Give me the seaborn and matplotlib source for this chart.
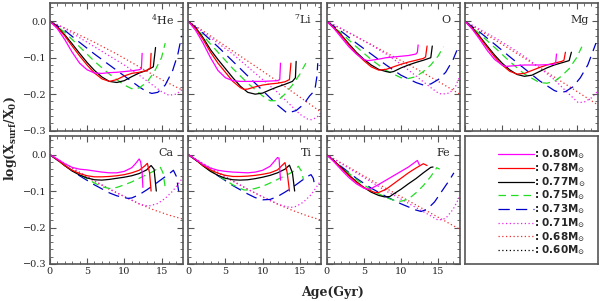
import pandas as pd
import matplotlib
matplotlib.use("Agg")
import matplotlib.pyplot as plt
from matplotlib.lines import Line2D
from matplotlib.ticker import MultipleLocator
import seaborn as sns

# stellar masses (Msun) and their line styles
MASSES = ["0.80", "0.78", "0.77", "0.75", "0.73", "0.71", "0.68", "0.60"]
COLORS = {"0.80": "#ff00ff", "0.78": "#ff0000", "0.77": "#000000", "0.75": "#22dd22",
          "0.73": "#0000cc", "0.71": "#ee22ee", "0.68": "#ee3030", "0.60": "#000000"}
DASHES = {"0.80": "", "0.78": "", "0.77": "", "0.75": (6, 4), "0.73": (9, 5),
          "0.71": (1, 2), "0.68": (1, 2), "0.60": (1, 2)}

# log(X_surf/X_0) vs age (Gyr)
HE4 = {
    "0.80": ([0, 1, 2, 3, 4, 5, 6, 7, 8, 9, 10, 11, 12, 12.3, 12.4],
             [0, -0.02, -0.05, -0.085, -0.115, -0.133, -0.142, -0.143, -0.141, -0.14, -0.138, -0.136, -0.133, -0.13, -0.088]),
    "0.78": ([0, 1, 2, 3, 4, 5, 6, 7, 8, 9, 10, 11, 12, 13, 13.5, 13.6],
             [0, -0.017, -0.04, -0.068, -0.095, -0.12, -0.142, -0.158, -0.165, -0.16, -0.15, -0.143, -0.14, -0.135, -0.128, -0.088]),
    "0.77": ([0, 1, 2, 3, 4, 5, 6, 7, 8, 9, 10, 11, 12, 13, 13.9, 14.2],
             [0, -0.015, -0.037, -0.062, -0.088, -0.113, -0.135, -0.153, -0.165, -0.168, -0.163, -0.152, -0.142, -0.135, -0.125, -0.072]),
    "0.75": ([0, 2, 4, 6, 8, 10, 11, 12, 13, 14, 15, 15.5],
             [0, -0.03, -0.07, -0.11, -0.145, -0.175, -0.185, -0.183, -0.168, -0.14, -0.1, -0.06]),
    "0.73": ([0, 2, 4, 6, 8, 10, 12, 13, 13.7, 14.5, 15.5, 16.5, 17.2, 17.7],
             [0, -0.025, -0.058, -0.09, -0.12, -0.15, -0.18, -0.193, -0.198, -0.195, -0.175, -0.135, -0.09, -0.04]),
    "0.71": ([0, 2, 4, 6, 8, 10, 12, 14, 15, 16, 17, 17.9],
             [0, -0.02, -0.045, -0.07, -0.095, -0.12, -0.148, -0.178, -0.193, -0.203, -0.2, -0.185]),
    "0.68": ([0, 3, 6, 9, 12, 15, 17.9],
             [0, -0.028, -0.058, -0.09, -0.125, -0.16, -0.19]),
}
LI7 = {
    "0.80": ([0, 1, 2, 3, 4, 5, 6, 7, 8, 9, 10, 11, 12, 12.3, 12.4],
             [0, -0.025, -0.06, -0.1, -0.135, -0.155, -0.163, -0.165, -0.165, -0.165, -0.165, -0.164, -0.163, -0.16, -0.115]),
    "0.78": ([0, 1, 2, 3, 4, 5, 6, 7, 7.5, 8, 9, 10, 11, 12, 13, 13.6, 13.8],
             [0, -0.02, -0.05, -0.085, -0.115, -0.14, -0.165, -0.182, -0.187, -0.186, -0.18, -0.175, -0.172, -0.17, -0.166, -0.16, -0.115]),
    "0.77": ([0, 1, 2, 3, 4, 5, 6, 7, 8, 9, 10, 11, 12, 13, 14, 14.4, 14.5],
             [0, -0.018, -0.045, -0.078, -0.105, -0.13, -0.155, -0.178, -0.195, -0.2, -0.197, -0.188, -0.18, -0.173, -0.165, -0.155, -0.11]),
    "0.75": ([0, 2, 4, 6, 8, 10, 11, 12, 13, 14, 15, 15.8],
             [0, -0.04, -0.085, -0.13, -0.17, -0.205, -0.218, -0.218, -0.2, -0.175, -0.145, -0.115]),
    "0.73": ([0, 2, 4, 6, 8, 10, 12, 13.3, 14.5, 15.5, 16.3, 17.0, 17.3, 17.4],
             [0, -0.033, -0.07, -0.11, -0.15, -0.19, -0.23, -0.252, -0.245, -0.228, -0.205, -0.19, -0.15, -0.115]),
    "0.71": ([0, 2, 4, 6, 8, 10, 12, 14, 15, 16, 16.5, 17.2, 17.9],
             [0, -0.03, -0.06, -0.09, -0.125, -0.16, -0.195, -0.235, -0.255, -0.268, -0.27, -0.265, -0.25]),
    "0.68": ([0, 3, 6, 9, 12, 15, 17.9],
             [0, -0.04, -0.082, -0.123, -0.165, -0.208, -0.25]),
}
OXY = {
    "0.80": ([0, 1, 2, 3, 4, 5, 5.5, 6, 7, 8, 9, 10, 11, 12, 12.2, 12.3],
             [0, -0.02, -0.045, -0.07, -0.09, -0.105, -0.108, -0.107, -0.104, -0.1, -0.098, -0.096, -0.094, -0.09, -0.085, -0.065]),
    "0.78": ([0, 1, 2, 3, 4, 5, 6, 7, 8, 9, 10, 11, 12, 13, 13.3, 13.5],
             [0, -0.018, -0.04, -0.065, -0.088, -0.108, -0.125, -0.134, -0.132, -0.125, -0.118, -0.112, -0.107, -0.102, -0.098, -0.068]),
    "0.77": ([0, 1, 2, 3, 4, 5, 6, 7, 8, 8.5, 9, 10, 11, 12, 13, 14, 14.2],
             [0, -0.017, -0.038, -0.062, -0.085, -0.104, -0.12, -0.132, -0.138, -0.14, -0.138, -0.128, -0.12, -0.113, -0.107, -0.1, -0.068]),
    "0.75": ([0, 2, 4, 6, 8, 10, 11, 12, 13, 14, 15, 15.7],
             [0, -0.033, -0.07, -0.105, -0.135, -0.155, -0.157, -0.152, -0.138, -0.12, -0.095, -0.07]),
    "0.73": ([0, 2, 4, 6, 8, 10, 12, 13, 14, 15, 16, 17, 17.5],
             [0, -0.028, -0.06, -0.09, -0.12, -0.148, -0.168, -0.175, -0.172, -0.16, -0.14, -0.105, -0.08]),
    "0.71": ([0, 2, 4, 6, 8, 10, 12, 14, 15, 15.5, 16.5, 17.3, 17.9],
             [0, -0.02, -0.042, -0.065, -0.09, -0.118, -0.15, -0.182, -0.197, -0.2, -0.197, -0.18, -0.15]),
    "0.68": ([0, 3, 6, 9, 12, 15, 17.9],
             [0, -0.032, -0.064, -0.097, -0.13, -0.165, -0.2]),
}
MG = {
    "0.80": ([0, 1, 2, 3, 4, 5, 5.5, 6, 8, 10, 12, 12.2, 12.3],
             [0, -0.022, -0.05, -0.08, -0.105, -0.12, -0.124, -0.123, -0.12, -0.12, -0.118, -0.112, -0.09]),
    "0.78": ([0, 1, 2, 3, 4, 5, 6, 7, 8, 9, 10, 11, 12, 13, 13.3, 13.5],
             [0, -0.02, -0.045, -0.072, -0.098, -0.12, -0.137, -0.145, -0.143, -0.135, -0.127, -0.12, -0.115, -0.11, -0.107, -0.085]),
    "0.77": ([0, 1, 2, 3, 4, 5, 6, 7, 8, 9, 10, 11, 12, 13, 14, 14.3],
             [0, -0.018, -0.042, -0.068, -0.093, -0.115, -0.133, -0.146, -0.151, -0.148, -0.138, -0.128, -0.12, -0.114, -0.108, -0.085]),
    "0.75": ([0, 2, 4, 6, 8, 10, 11, 12, 13, 14, 15, 15.7],
             [0, -0.035, -0.072, -0.11, -0.145, -0.168, -0.17, -0.165, -0.15, -0.13, -0.1, -0.07]),
    "0.73": ([0, 2, 4, 6, 8, 10, 12, 12.7, 13.5, 14.5, 15.5, 16.5, 17.6],
             [0, -0.03, -0.063, -0.097, -0.13, -0.163, -0.19, -0.195, -0.193, -0.18, -0.155, -0.12, -0.06]),
    "0.71": ([0, 2, 4, 6, 8, 10, 12, 14, 15.2, 16, 17, 17.9],
             [0, -0.022, -0.045, -0.07, -0.097, -0.127, -0.16, -0.2, -0.223, -0.222, -0.21, -0.19]),
    "0.68": ([0, 3, 6, 9, 12, 15, 17.9],
             [0, -0.038, -0.076, -0.114, -0.153, -0.192, -0.23]),
}
CA = {
    "0.80": ([0, 1, 2, 3, 4, 5, 6, 7, 8, 9, 10, 11, 11.5, 12.0, 12.2, 12.4, 12.5],
             [0, -0.012, -0.025, -0.035, -0.04, -0.042, -0.045, -0.048, -0.05, -0.05, -0.046, -0.036, -0.025, -0.012, -0.02, -0.05, -0.09]),
    "0.78": ([0, 1, 2, 3, 4, 5, 6, 7, 8, 9, 10, 11, 12, 12.7, 13.1, 13.4, 13.6],
             [0, -0.014, -0.03, -0.043, -0.052, -0.058, -0.061, -0.061, -0.06, -0.058, -0.055, -0.05, -0.043, -0.032, -0.024, -0.05, -0.1]),
    "0.77": ([0, 1, 2, 3, 4, 5, 6, 7, 8, 9, 10, 11, 12, 13, 13.6, 14.0, 14.3],
             [0, -0.014, -0.03, -0.045, -0.056, -0.064, -0.069, -0.07, -0.068, -0.065, -0.062, -0.058, -0.052, -0.042, -0.03, -0.04, -0.1]),
    "0.75": ([0, 2, 4, 6, 7, 8, 9, 10, 11, 12, 13, 14, 14.8, 15.2, 15.5],
             [0, -0.03, -0.055, -0.078, -0.088, -0.093, -0.09, -0.083, -0.075, -0.065, -0.055, -0.045, -0.033, -0.05, -0.09]),
    "0.73": ([0, 2, 4, 6, 8, 9, 10, 10.5, 11, 12, 13, 14, 15, 16, 16.6, 17, 17.3],
             [0, -0.03, -0.058, -0.083, -0.105, -0.113, -0.118, -0.12, -0.119, -0.11, -0.097, -0.083, -0.068, -0.053, -0.043, -0.06, -0.1]),
    "0.71": ([0, 2, 4, 6, 8, 10, 11, 12, 12.8, 13.5, 14.5, 15.5, 16.5, 17.2, 17.9],
             [0, -0.024, -0.048, -0.072, -0.094, -0.115, -0.125, -0.135, -0.14, -0.14, -0.134, -0.12, -0.1, -0.082, -0.062]),
    "0.68": ([0, 2, 4, 6, 8, 10, 12, 14, 16, 17.9],
             [0, -0.025, -0.05, -0.073, -0.095, -0.115, -0.135, -0.152, -0.166, -0.177]),
}
TI = {
    "0.80": ([0, 1, 2, 3, 4, 5, 6, 7, 8, 9, 10, 11, 11.5, 12.0, 12.2, 12.3, 12.4],
             [0, -0.013, -0.027, -0.037, -0.043, -0.046, -0.048, -0.049, -0.05, -0.048, -0.043, -0.032, -0.02, -0.008, -0.01, -0.04, -0.07]),
    "0.78": ([0, 1, 2, 3, 4, 5, 6, 7, 8, 9, 10, 11, 12, 12.6, 13.0, 13.3, 13.6],
             [0, -0.014, -0.03, -0.042, -0.051, -0.057, -0.06, -0.06, -0.059, -0.057, -0.054, -0.05, -0.042, -0.03, -0.022, -0.05, -0.1]),
    "0.77": ([0, 1, 2, 3, 4, 5, 6, 7, 8, 9, 10, 11, 12, 13, 13.6, 14.0, 14.3],
             [0, -0.014, -0.031, -0.046, -0.057, -0.065, -0.069, -0.07, -0.069, -0.066, -0.062, -0.057, -0.05, -0.04, -0.029, -0.05, -0.1]),
    "0.75": ([0, 2, 4, 6, 7, 7.5, 8, 9, 10, 11, 12, 13, 14, 14.8, 15.2, 15.5],
             [0, -0.03, -0.057, -0.083, -0.093, -0.097, -0.097, -0.093, -0.087, -0.078, -0.068, -0.058, -0.048, -0.032, -0.045, -0.07]),
    "0.73": ([0, 2, 4, 6, 8, 9, 10, 11, 12, 13, 14, 15, 16, 16.5, 16.8, 17.0],
             [0, -0.03, -0.058, -0.085, -0.108, -0.118, -0.124, -0.123, -0.115, -0.103, -0.09, -0.075, -0.06, -0.055, -0.065, -0.085]),
    "0.71": ([0, 2, 4, 6, 8, 10, 12, 13, 13.8, 14.5, 15.5, 16.5, 17.2, 17.9],
             [0, -0.024, -0.048, -0.072, -0.095, -0.116, -0.135, -0.142, -0.145, -0.142, -0.13, -0.11, -0.09, -0.068]),
    "0.68": ([0, 2, 4, 6, 8, 10, 12, 14, 16, 17.9],
             [0, -0.025, -0.05, -0.073, -0.095, -0.116, -0.136, -0.153, -0.168, -0.18]),
}
FE = {
    "0.80": ([0, 1, 2, 3, 4, 5, 5.5, 6, 7, 8, 9, 10, 11, 11.8, 12.2, 12.5],
             [0, -0.02, -0.042, -0.063, -0.08, -0.092, -0.095, -0.093, -0.082, -0.07, -0.058, -0.046, -0.034, -0.022, -0.016, -0.03]),
    "0.78": ([0, 1, 2, 3, 4, 5, 6, 6.5, 7, 8, 9, 10, 11, 12, 13, 13.3, 13.5],
             [0, -0.018, -0.038, -0.058, -0.076, -0.09, -0.1, -0.104, -0.104, -0.095, -0.08, -0.065, -0.05, -0.037, -0.025, -0.028, -0.03]),
    "0.77": ([0, 1, 2, 3, 4, 5, 6, 7, 7.8, 8.5, 9, 10, 11, 12, 13, 14, 14.3],
             [0, -0.017, -0.036, -0.056, -0.074, -0.09, -0.103, -0.112, -0.116, -0.115, -0.108, -0.095, -0.08, -0.066, -0.05, -0.035, -0.034]),
    "0.75": ([0, 2, 4, 6, 8, 9, 10, 11, 12, 13, 14, 14.8, 15.2],
             [0, -0.035, -0.068, -0.097, -0.118, -0.125, -0.128, -0.122, -0.105, -0.085, -0.06, -0.036, -0.04]),
    "0.73": ([0, 2, 4, 6, 8, 10, 12, 12.7, 13.5, 14.5, 15.5, 16.5, 17.1],
             [0, -0.033, -0.065, -0.092, -0.115, -0.135, -0.152, -0.156, -0.15, -0.13, -0.1, -0.07, -0.05]),
    "0.71": ([0, 2, 4, 6, 8, 10, 12, 14, 15, 16, 17, 17.9],
             [0, -0.025, -0.05, -0.075, -0.1, -0.122, -0.145, -0.168, -0.18, -0.175, -0.15, -0.115]),
    "0.68": ([0, 3, 6, 9, 12, 15, 17.9],
             [0, -0.035, -0.07, -0.104, -0.138, -0.172, -0.205]),
}

PANELS = [(r"$^{4}$He", HE4), (r"$^{7}$Li", LI7), ("O", OXY), ("Mg", MG),
          ("Ca", CA), ("Ti", TI), ("Fe", FE)]

sns.set_theme(style="ticks")
plt.rcParams["font.family"] = ["DejaVu Serif"]
plt.rcParams["mathtext.fontset"] = "dejavuserif"
FRAME = "#555555"

fig, axes = plt.subplots(2, 4, figsize=(6, 3.01), dpi=100)
fig.subplots_adjust(left=0.083, right=0.997, top=0.99, bottom=0.123,
                    wspace=0.038, hspace=0.045)

for i, (name, data) in enumerate(PANELS):
    ax = axes.flat[i]
    rows = []
    for mass, (ages, vals) in data.items():
        for a, v in zip(ages, vals):
            rows.append({"mass": mass, "age": a, "val": v})
    df = pd.DataFrame(rows)
    levels = [m for m in MASSES if m in data]
    # draw the dotted ones first so the solid tracks sit on top
    order = levels[::-1]
    sns.lineplot(data=df, x="age", y="val", hue="mass", style="mass",
                 hue_order=order, style_order=order,
                 palette={m: COLORS[m] for m in order},
                 dashes={m: DASHES[m] for m in order},
                 estimator=None, sort=False, lw=0.9, legend=False, ax=ax)
    ax.set_xlim(0, 17.9)
    ax.set_ylim(-0.3, 0.05)
    ax.set_xlabel("")
    ax.set_ylabel("")
    ax.xaxis.set_major_locator(MultipleLocator(5))
    ax.xaxis.set_minor_locator(MultipleLocator(1))
    ax.yaxis.set_major_locator(MultipleLocator(0.1))
    ax.yaxis.set_minor_locator(MultipleLocator(0.02))
    ax.text(0.93, 0.87, name, transform=ax.transAxes, ha="right", va="center", fontsize=8)

for i, ax in enumerate(axes.flat):
    row, col = divmod(i, 4)
    ax.tick_params(which="both", direction="in", top=True, right=True,
                   color=FRAME, labelsize=7, pad=2)
    ax.tick_params(which="major", length=4, width=0.8)
    ax.tick_params(which="minor", length=2, width=0.6)
    ax.tick_params(labelbottom=(row == 1), labelleft=(col == 0))
    for sp in ax.spines.values():
        sp.set_color(FRAME)
        sp.set_linewidth(1.2)

# legend panel
lax = axes[1, 3]
lax.set_xticks([])
lax.set_yticks([])
lax.minorticks_off()
handles = []
for m in MASSES:
    h = Line2D([0], [0], color=COLORS[m], lw=0.9)
    if DASHES[m]:
        h.set_dashes(DASHES[m])
    handles.append(h)
labels = [": " + m + r"M$_{\odot}$" for m in MASSES]
lax.legend(handles, labels, loc="upper left", bbox_to_anchor=(0.25, 0.91),
           frameon=False, borderaxespad=0, borderpad=0, handlelength=3.4,
           handletextpad=0.0, labelspacing=0.02,
           prop={"family": "DejaVu Sans", "weight": "bold", "size": 7.5})

fig.text(0.018, 0.54, r"$\mathbf{log(X_{surf}/X_{0})}$", rotation=90,
         ha="center", va="center", fontsize=9)
fig.text(0.555, 0.028, "Age(Gyr)", ha="center", va="center",
         fontsize=9, fontweight="bold")

fig.savefig("out.png", dpi=100)
